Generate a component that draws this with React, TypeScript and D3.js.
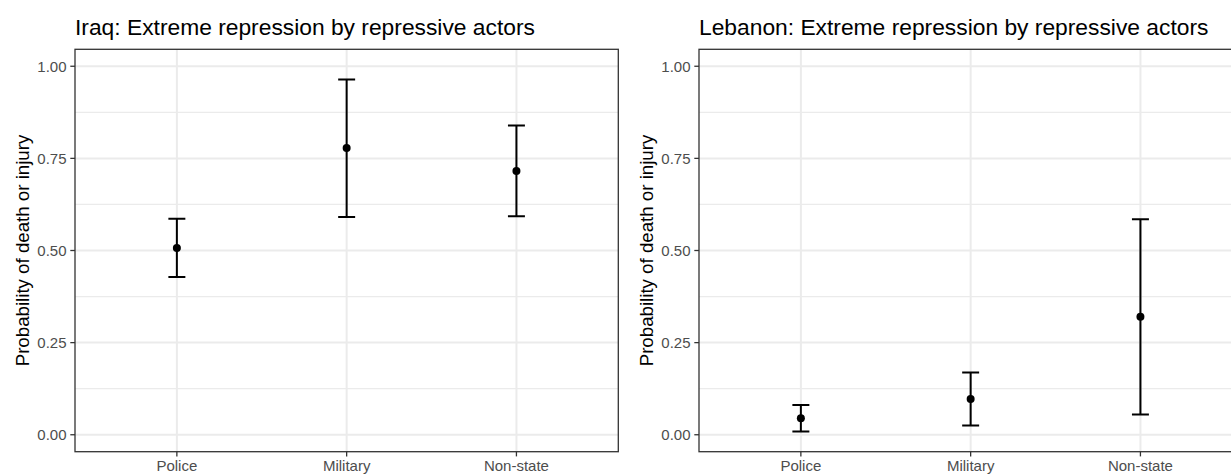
import React from "react";
import * as d3 from "d3";

const categories = ["Police", "Military", "Non-state"];

const iraqEstimate = [0.507, 0.778, 0.716];
const iraqLower = [0.428, 0.591, 0.593];
const iraqUpper = [0.586, 0.964, 0.839];

const lebanonEstimate = [0.045, 0.097, 0.32];
const lebanonLower = [0.009, 0.025, 0.055];
const lebanonUpper = [0.081, 0.169, 0.585];

const yTicks = [0, 0.25, 0.5, 0.75, 1];
const yMinorTicks = [0.125, 0.375, 0.625, 0.875];
const yTickLabels = ["0.00", "0.25", "0.50", "0.75", "1.00"];

const panelTitles = [
  "Iraq: Extreme repression by repressive actors",
  "Lebanon: Extreme repression by repressive actors",
];
const yAxisTitle = "Probability of death or injury";

const W = 1231;
const H = 475;
const FONT = "'Liberation Sans', Arial, Helvetica, sans-serif";

type PanelProps = {
  x0: number;
  x1: number;
  title: string;
  est: number[];
  lo: number[];
  hi: number[];
  id: string;
};

function Panel({ x0, x1, title, est, lo, hi, id }: PanelProps) {
  const top = 49.3;
  const bottom = 451.7;
  const x = d3.scalePoint<string>().domain(categories).range([x0, x1]).padding(0.6);
  const y = d3.scaleLinear().domain([-0.046, 1.046]).range([bottom, top]);
  const capHalf = x.step() * 0.05;
  const rows = categories.map((c, i) => ({ c, e: est[i], l: lo[i], h: hi[i] }));
  const grid = "#EBEBEB";
  const dark = "#333333";
  return (
    <g>
      <defs>
        <clipPath id={id}>
          <rect x={x0} y={top} width={x1 - x0} height={bottom - top} />
        </clipPath>
      </defs>
      <rect x={x0} y={top} width={x1 - x0} height={bottom - top} fill="#fff" />
      <g clipPath={`url(#${id})`}>
        {yMinorTicks.map((t) => (
          <line key={"m" + t} x1={x0} x2={x1} y1={y(t)} y2={y(t)} stroke={grid} strokeWidth={1.2} />
        ))}
        {yTicks.map((t) => (
          <line key={"M" + t} x1={x0} x2={x1} y1={y(t)} y2={y(t)} stroke={grid} strokeWidth={2} />
        ))}
        {categories.map((c) => (
          <line key={"x" + c} x1={x(c)} x2={x(c)} y1={top} y2={bottom} stroke={grid} strokeWidth={2} />
        ))}
        {rows.map((r) => (
          <g key={r.c} stroke="#000" strokeWidth={2}>
            <line x1={x(r.c)} x2={x(r.c)} y1={y(r.l)} y2={y(r.h)} />
            <line x1={x(r.c)! - capHalf} x2={x(r.c)! + capHalf} y1={y(r.h)} y2={y(r.h)} />
            <line x1={x(r.c)! - capHalf} x2={x(r.c)! + capHalf} y1={y(r.l)} y2={y(r.l)} />
            <circle cx={x(r.c)} cy={y(r.e)} r={4} fill="#000" stroke="none" />
          </g>
        ))}
      </g>
      <rect x={x0} y={top} width={x1 - x0} height={bottom - top} fill="none" stroke={dark} strokeWidth={1.3} />
      {yTicks.map((t, i) => (
        <g key={"yt" + t}>
          <line x1={x0 - 4.7} x2={x0} y1={y(t)} y2={y(t)} stroke={dark} strokeWidth={1.3} />
          <text
            x={x0 - 8.5}
            y={y(t)}
            dy="0.36em"
            textAnchor="end"
            fontSize={15}
            fill="#4D4D4D"
            fontFamily={FONT}
          >
            {yTickLabels[i]}
          </text>
        </g>
      ))}
      {categories.map((c) => (
        <g key={"xt" + c}>
          <line x1={x(c)} x2={x(c)} y1={bottom} y2={bottom + 4.7} stroke={dark} strokeWidth={1.3} />
          <text x={x(c)} y={471} textAnchor="middle" fontSize={15} fill="#4D4D4D" fontFamily={FONT}>
            {c}
          </text>
        </g>
      ))}
      <text
        transform={`translate(${x0 - 46},${(top + bottom) / 2}) rotate(-90)`}
        textAnchor="middle"
        fontSize={18.7}
        fill="#000"
        fontFamily={FONT}
      >
        {yAxisTitle}
      </text>
      <text x={x0} y={35} fontSize={22.8} fill="#000" fontFamily={FONT}>
        {title}
      </text>
    </g>
  );
}

export default function App() {
  return (
    <svg
      width={W}
      height={H}
      viewBox={`0 0 ${W} ${H}`}
      style={{ position: "absolute", left: 0, top: 0, display: "block", background: "#fff" }}
    >
      <rect x={0} y={0} width={W} height={H} fill="#fff" />
      <Panel x0={75} x1={618.3} title={panelTitles[0]} est={iraqEstimate} lo={iraqLower} hi={iraqUpper} id="clipL" />
      <Panel
        x0={699}
        x1={1242.3}
        title={panelTitles[1]}
        est={lebanonEstimate}
        lo={lebanonLower}
        hi={lebanonUpper}
        id="clipR"
      />
    </svg>
  );
}
